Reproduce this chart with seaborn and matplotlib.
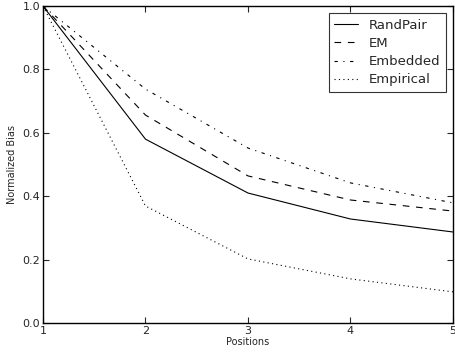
import pandas as pd
import matplotlib
matplotlib.use("Agg")
import matplotlib.pyplot as plt
import seaborn as sns

# --- DATA ---
POSITIONS = [1, 2, 3, 4, 5]
RANDPAIR = [1.0, 0.58, 0.41, 0.328, 0.287]
EM = [1.0, 0.656, 0.464, 0.388, 0.353]
EMBEDDED = [1.0, 0.738, 0.552, 0.442, 0.379]
EMPIRICAL = [1.0, 0.369, 0.202, 0.139, 0.098]

SERIES = {
    'RandPair': RANDPAIR,
    'EM': EM,
    'Embedded': EMBEDDED,
    'Empirical': EMPIRICAL,
}

sns.set_style("ticks")
plt.rcParams['font.family'] = ['DejaVu Sans']
plt.rcParams['font.size'] = 8

rows = []
for name, vals in SERIES.items():
    for p, v in zip(POSITIONS, vals):
        rows.append({'Positions': p, 'Bias': v, 'Method': name})
df = pd.DataFrame(rows)

fig = plt.figure(figsize=(4.55, 3.58), dpi=100)
ax = fig.add_axes([0.0945, 0.098, 0.901, 0.885])

# old-style matplotlib dash patterns
styles = {
    'RandPair': '-',
    'EM': (0, (6, 6)),
    'Embedded': (0, (3, 5, 1, 5)),
    'Empirical': (0, (1, 3)),
}

for name in SERIES:
    sns.lineplot(data=df[df['Method'] == name], x='Positions', y='Bias',
                 color='black', linewidth=0.8, linestyle=styles[name],
                 label=name, ax=ax, errorbar=None)

ax.set_xlim(1, 5)
ax.set_ylim(0, 1.0)
ax.set_xticks(POSITIONS)
ax.set_yticks([0.0, 0.2, 0.4, 0.6, 0.8, 1.0])
ax.set_xlabel('Positions', fontsize=7, labelpad=1)
ax.set_ylabel('Normalized Bias', fontsize=7, labelpad=4)
ax.tick_params(direction='in', top=True, right=True, labelsize=8, length=4, width=0.8, pad=2)
for sp in ax.spines.values():
    sp.set_linewidth(1.0)
    sp.set_color('black')

leg = ax.legend(loc='upper right', fontsize=9.5, frameon=True, fancybox=False,
                handlelength=1.8, handletextpad=0.8, borderaxespad=0.5,
                labelspacing=0.4, borderpad=0.45)
leg.get_frame().set_edgecolor('black')
leg.get_frame().set_linewidth(0.8)

fig.savefig('out.png', dpi=100)
